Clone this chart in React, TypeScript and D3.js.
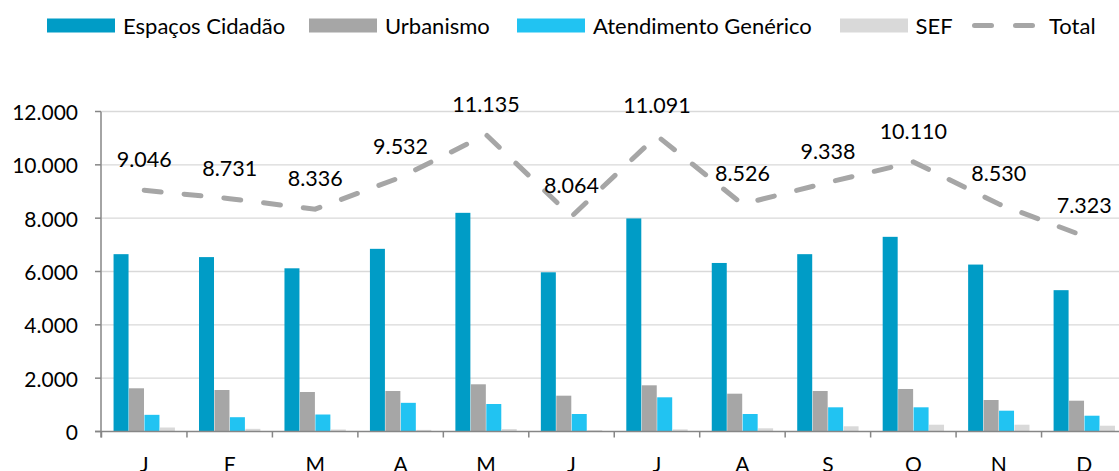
import React from "react";
import * as d3 from "d3";

const months = ["J", "F", "M", "A", "M", "J", "J", "A", "S", "O", "N", "D"];
const espacosCidadao = [6650, 6540, 6120, 6850, 8200, 5970, 7990, 6320, 6650, 7300, 6260, 5300];
const urbanismo = [1620, 1556, 1481, 1519, 1770, 1343, 1732, 1418, 1519, 1594, 1181, 1155];
const atendimentoGenerico = [625, 536, 637, 1075, 1031, 656, 1282, 656, 907, 907, 780, 592];
const sef = [150, 100, 75, 60, 90, 50, 80, 120, 195, 255, 255, 217];
const total = [9046, 8731, 8336, 9532, 11135, 8064, 11091, 8526, 9338, 10110, 8530, 7323];
const yTicks = [0, 2000, 4000, 6000, 8000, 10000, 12000];

const seriesNames = ["Espaços Cidadão", "Urbanismo", "Atendimento Genérico", "SEF"];
const seriesColors = ["#009CC6", "#A6A6A6", "#21C3F2", "#D9D9D9"];
const lineColor = "#A6A6A6";

const W = 1119;
const H = 471;
const FONT = "Lato, 'Noto Sans', sans-serif";

const fmt = (v: number) => d3.format(",")(v).replace(/,/g, ".");

export default function App() {
  const series = [espacosCidadao, urbanismo, atendimentoGenerico, sef];
  const x0 = d3.scaleBand<number>().domain(d3.range(months.length)).range([101.5, 1127]).paddingInner(0).paddingOuter(0);
  const x1 = d3.scaleBand<number>().domain(d3.range(4)).range([0, x0.bandwidth()]).paddingOuter(0.78).paddingInner(0.03);
  const y = d3.scaleLinear().domain([0, 12000]).range([431.5, 111.5]);
  const line = d3
    .line<number>()
    .x((_, i) => (x0(i) as number) + x0.bandwidth() / 2)
    .y((d) => y(d));

  const legendItems = [
    { name: seriesNames[0], color: seriesColors[0], x: 47, tx: 123 },
    { name: seriesNames[1], color: seriesColors[1], x: 309, tx: 385 },
    { name: seriesNames[2], color: seriesColors[2], x: 517, tx: 593 },
    { name: seriesNames[3], color: seriesColors[3], x: 840, tx: 915.5 },
  ];

  return (
    <svg width={W} height={H} style={{ position: "absolute", left: 0, top: 0, fontFamily: FONT }}>
      <rect width={W} height={H} fill="#fff" />
      {yTicks.slice(1).map((t) => (
        <line key={t} x1={101.5} x2={W} y1={y(t)} y2={y(t)} stroke="#D9D9D9" strokeWidth={1.3} />
      ))}
      {series.map((s, si) =>
        s.map((v, i) => (
          <rect
            key={`${si}-${i}`}
            x={(x0(i) as number) + (x1(si) as number)}
            y={y(v)}
            width={x1.bandwidth()}
            height={y(0) - y(v)}
            fill={seriesColors[si]}
          />
        ))
      )}
      <line x1={101} x2={101} y1={y(12000)} y2={y(0) + 6} stroke="#868686" strokeWidth={1.5} />
      {yTicks.map((t) => (
        <g key={t}>
          <line x1={95} x2={101} y1={y(t)} y2={y(t)} stroke="#868686" strokeWidth={1.5} />
          <text x={78} y={y(t)} textAnchor="end" dominantBaseline="central" fontSize={21} fill="#000">
            {fmt(t)}
          </text>
        </g>
      ))}
      <line x1={95} x2={W} y1={y(0)} y2={y(0)} stroke="#868686" strokeWidth={1.5} />
      {months.map((m, i) => (
        <g key={i}>
          <line x1={x0(i) as number} x2={x0(i) as number} y1={y(0)} y2={y(0) + 6} stroke="#868686" strokeWidth={1.5} />
          <text x={(x0(i) as number) + x0.bandwidth() / 2} y={463} textAnchor="middle" dominantBaseline="central" fontSize={21} fill="#000">
            {m}
          </text>
        </g>
      ))}
      <path d={line(total) || ""} fill="none" stroke={lineColor} strokeWidth={5} strokeDasharray="17 23" strokeLinecap="round" />
      {total.map((v, i) => (
        <text key={i} x={(x0(i) as number) + x0.bandwidth() / 2} y={y(v) - 31} textAnchor="middle" dominantBaseline="central" fontSize={21.5} fill="#000">
          {fmt(v)}
        </text>
      ))}
      {legendItems.map((it) => (
        <g key={it.name}>
          <rect x={it.x} y={18.5} width={68} height={14} fill={it.color} />
          <text x={it.tx} y={25} dominantBaseline="central" fontSize={22} fill="#000">
            {it.name}
          </text>
        </g>
      ))}
      <line x1={974.5} x2={991.5} y1={25.5} y2={25.5} stroke={lineColor} strokeWidth={5} strokeLinecap="round" />
      <line x1={1015.5} x2={1032.5} y1={25.5} y2={25.5} stroke={lineColor} strokeWidth={5} strokeLinecap="round" />
      <text x={1049} y={25} dominantBaseline="central" fontSize={22} fill="#000">
        Total
      </text>
    </svg>
  );
}
